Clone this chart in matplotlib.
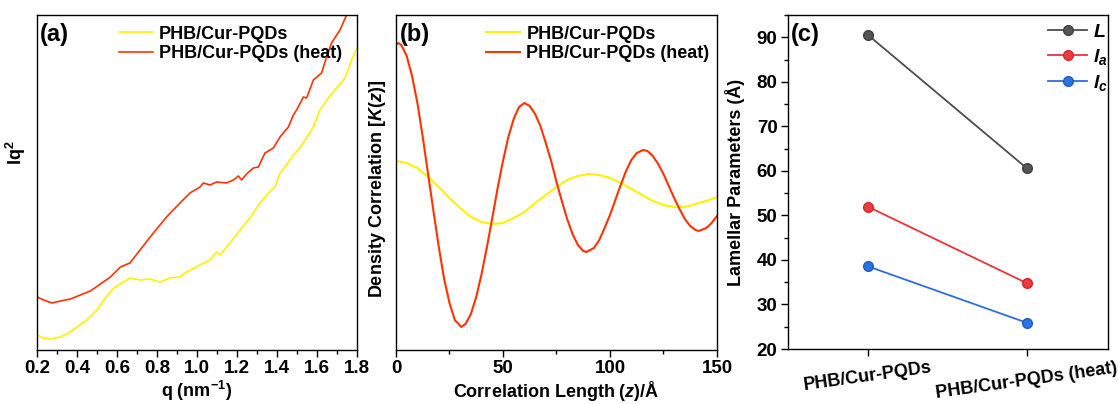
import matplotlib
matplotlib.use("Agg")
import matplotlib.pyplot as plt
from matplotlib.ticker import MultipleLocator, FormatStrFormatter

plt.rcParams['font.family'] = ['Liberation Sans', 'DejaVu Sans']
plt.rcParams['font.weight'] = 'bold'
plt.rcParams['axes.labelweight'] = 'bold'
plt.rcParams['mathtext.fontset'] = 'custom'
plt.rcParams['mathtext.rm'] = 'Liberation Sans:bold'
plt.rcParams['mathtext.it'] = 'Liberation Sans:italic:bold'
plt.rcParams['mathtext.bf'] = 'Liberation Sans:bold'
plt.rcParams['axes.linewidth'] = 1.0

YELLOW = '#fff200'
RED = '#ff3300'
TICK_FS = 13.5
LABEL_FS = 13
LEG_FS = 13

labels = ['PHB/Cur-PQDs', 'PHB/Cur-PQDs (heat)']

# (a) Lorentz-corrected SAXS, arbitrary units
q_red = [0.200, 0.233, 0.275, 0.317, 0.367, 0.417, 0.467, 0.517, 0.567, 0.617,
         0.665, 0.715, 0.782, 0.848, 0.915, 0.965, 1.015, 1.032, 1.065, 1.098,
         1.148, 1.182, 1.207, 1.223, 1.248, 1.282, 1.307, 1.340, 1.382, 1.415,
         1.457, 1.482, 1.498, 1.532, 1.548, 1.582, 1.623, 1.648, 1.673, 1.715,
         1.748, 1.760]
iq_red = [53, 50, 47, 49, 51, 55, 59, 66, 73, 83,
          87, 100, 117, 133, 147, 157, 163, 167, 165, 168,
          167, 170, 174, 170, 176, 182, 183, 197, 202, 213,
          223, 235, 240, 253, 252, 270, 277, 293, 307, 320,
          335, 340]
q_yel = [0.200, 0.233, 0.267, 0.317, 0.358, 0.400, 0.450, 0.500, 0.542, 0.583,
         0.625, 0.665, 0.715, 0.765, 0.815, 0.865, 0.915, 0.948, 1.015, 1.065,
         1.098, 1.115, 1.165, 1.215, 1.265, 1.315, 1.357, 1.390, 1.415, 1.448,
         1.482, 1.507, 1.540, 1.582, 1.615, 1.657, 1.698, 1.740, 1.773, 1.800]
iq_yel = [15, 12, 11, 13, 17, 23, 30, 40, 52, 62,
          67, 72, 70, 71, 68, 72, 73, 78, 85, 90,
          98, 95, 107, 120, 132, 147, 157, 163, 177, 185,
          195, 200, 210, 223, 240, 252, 262, 272, 290, 302]

# (b) correlation function, arbitrary units
z_red = [0, 1, 2.5, 5, 7.5, 10, 12.5, 15, 17.5, 20, 22.5, 25, 27.5, 30.5,
         32.5, 35, 37.5, 40, 42.5, 45, 47.5, 50, 52.5, 55, 57.5, 60,
         62.5, 65, 67.5, 70, 72.5, 75, 77.5, 80, 82.5, 85, 87.5, 89,
         92.5, 95, 97.5, 100, 102.5, 105, 107.5, 110, 112.5, 115.5,
         117.5, 120, 122.5, 125, 127.5, 130, 132.5, 135, 137.5, 140, 141.5,
         145, 147.5, 150]
k_red = [305, 307, 305, 294, 274, 247, 213, 176, 139, 103, 71, 47, 30, 23,
         26, 36, 53, 76, 103, 132, 162, 189, 213, 231, 243, 247,
         244, 236, 224, 207, 189, 168, 149, 131, 116, 105, 99, 98,
         102, 110, 122, 135, 150, 165, 179, 190, 197, 200,
         199, 194, 186, 176, 164, 152, 141, 131, 124, 120, 119,
         122, 127, 134]
z_yel = [0, 5, 10, 15, 20, 25, 30, 35, 40, 45, 50, 55, 60, 65, 70, 75, 80, 85,
         90, 95, 100, 105, 110, 115, 120, 125, 130, 132, 135, 140, 145, 150]
k_yel = [189, 187, 182, 173, 163, 152, 142, 133, 128, 126, 127, 132, 138, 147,
         155, 163, 170, 174, 176, 175, 172, 167, 161, 155, 149, 145, 143, 143,
         143, 146, 149, 153]

# (c) lamellar parameters (Angstrom)
L_vals = [90.6, 60.6]
la_vals = [52.0, 34.8]
lc_vals = [38.6, 25.9]

fig = plt.figure(figsize=(11.18, 4.04), dpi=100)
ax1 = fig.add_axes([0.0331, 0.1337, 0.2862, 0.8292])
ax2 = fig.add_axes([0.3542, 0.1337, 0.2871, 0.8292])
ax3 = fig.add_axes([0.7048, 0.1361, 0.2862, 0.8267])

for ax in (ax1, ax2, ax3):
    ax.tick_params(which='major', direction='out', length=5, width=1,
                   labelsize=TICK_FS, pad=2.5)
    ax.tick_params(which='minor', direction='out', length=3, width=1)

# panel a
ax1.plot(q_yel, iq_yel, color=YELLOW, lw=1.2, label=labels[0])
ax1.plot(q_red, iq_red, color=RED, lw=1.2, label=labels[1])
ax1.set_xlim(0.2, 1.8)
ax1.set_ylim(0, 335)
ax1.xaxis.set_major_locator(MultipleLocator(0.2))
ax1.xaxis.set_minor_locator(MultipleLocator(0.1))
ax1.xaxis.set_major_formatter(FormatStrFormatter('%.1f'))
ax1.tick_params(axis='y', which='both', left=False, labelleft=False)
ax1.set_xlabel('q (nm$^{-1}$)', fontsize=LABEL_FS, labelpad=1)
ax1.set_ylabel('Iq$^2$', fontsize=LABEL_FS)
ax1.yaxis.set_label_coords(-0.028, 0.59)
ax1.text(0.01, 0.975, '(a)', transform=ax1.transAxes, fontsize=17,
         fontweight='bold', va='top', ha='left')
ax1.legend(loc='upper left', bbox_to_anchor=(0.255, 0.968), frameon=False,
           fontsize=LEG_FS, handlelength=1.9, handletextpad=0.35,
           labelspacing=0.15, borderpad=0, borderaxespad=0)

# panel b
ax2.plot(z_yel, k_yel, color=YELLOW, lw=1.5, label=labels[0])
ax2.plot(z_red, k_red, color=RED, lw=1.5, label=labels[1])
ax2.set_xlim(0, 150)
ax2.set_ylim(0, 335)
ax2.xaxis.set_major_locator(MultipleLocator(50))
ax2.xaxis.set_minor_locator(MultipleLocator(25))
ax2.tick_params(axis='y', which='both', left=False, labelleft=False)
ax2.set_xlabel('Correlation Length ($z$)/Å', fontsize=LABEL_FS, labelpad=1)
ax2.set_ylabel('Density Correlation [$K$($z$)]', fontsize=LABEL_FS)
ax2.yaxis.set_label_coords(-0.025, 0.48)
ax2.text(0.013, 0.975, '(b)', transform=ax2.transAxes, fontsize=17,
         fontweight='bold', va='top', ha='left')
ax2.legend(loc='upper left', bbox_to_anchor=(0.28, 0.968), frameon=False,
           fontsize=LEG_FS, handlelength=1.9, handletextpad=0.35,
           labelspacing=0.15, borderpad=0, borderaxespad=0)

# panel c
xc = [0, 1]
ax3.plot(xc, L_vals, '-o', color='#4d4d4d', mfc='#555555', mec='#404040',
         lw=1.3, ms=7, label='$L$')
ax3.plot(xc, la_vals, '-o', color='#ee3338', mfc='#f0393e', mec='#d02a2e',
         lw=1.3, ms=7, label='$l_a$')
ax3.plot(xc, lc_vals, '-o', color='#2a6fdb', mfc='#2c72e0', mec='#1f5ec0',
         lw=1.3, ms=7, label='$l_c$')
ax3.set_xlim(-0.5, 1.51)
ax3.set_ylim(20, 95)
ax3.yaxis.set_major_locator(MultipleLocator(10))
ax3.yaxis.set_minor_locator(MultipleLocator(5))
ax3.set_xticks(xc)
ax3.set_xticklabels(labels, rotation=8, ha='center', fontsize=LABEL_FS)
ax3.set_ylabel('Lamellar Parameters (Å)', fontsize=LABEL_FS)
ax3.yaxis.set_label_coords(-0.134, 0.5)
ax3.text(0.01, 0.975, '(c)', transform=ax3.transAxes, fontsize=17,
         fontweight='bold', va='top', ha='left')
ax3.legend(loc='upper right', bbox_to_anchor=(1.0, 0.975), frameon=False,
           fontsize=14, handlelength=2.0, handletextpad=0.3,
           labelspacing=0.3, borderpad=0, borderaxespad=0)

fig.savefig('out.png', dpi=100)
